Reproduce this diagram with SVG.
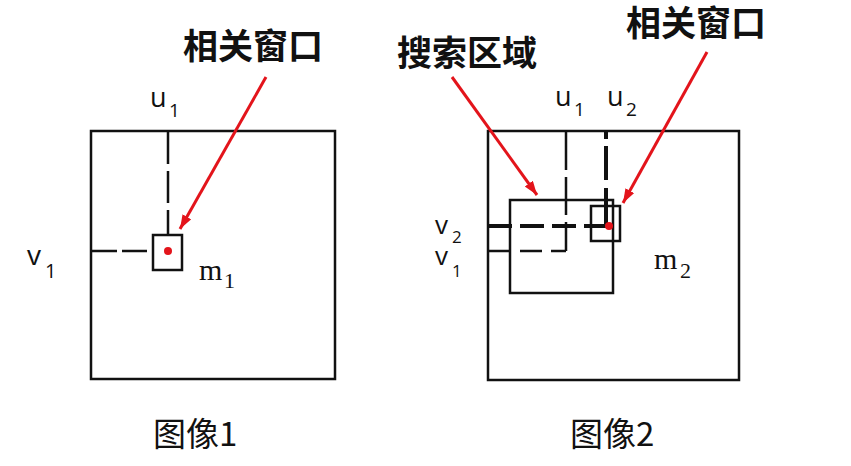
<svg xmlns="http://www.w3.org/2000/svg" width="851" height="466" viewBox="0 0 851 466">
<defs>
<style>
.box{fill:none;stroke:#111;stroke-width:2.5}
.dash{fill:none;stroke:#111;stroke-width:2.5}
.dashb{fill:none;stroke:#111;stroke-width:4}
.arrow{stroke:#e3141b;stroke-width:3;fill:none;marker-end:url(#ah)}
.dot{fill:#e3141b}
.cjkb{font-family:"Noto Sans CJK SC","Noto Sans",sans-serif;font-weight:bold;font-size:35px;fill:#111}
.cjk{font-family:"Noto Sans CJK SC","Noto Sans",sans-serif;font-size:33px;fill:#111}
.var{font-family:"Open Sans","Noto Sans",sans-serif;fill:#111}
.ser{font-family:"Liberation Serif","Times New Roman",serif;fill:#111}
</style>
<marker id="ah" markerUnits="userSpaceOnUse" markerWidth="16" markerHeight="12" refX="14" refY="5" orient="auto">
<path d="M0,0 L14,5 L0,10 z" fill="#e3141b"/>
</marker>
</defs>
<rect width="851" height="466" fill="#fff"/>

<g id="image1">
<rect class="box" x="91" y="131" width="244" height="248"/>
<text class="cjk" x="153" y="446">图像1</text>
</g>
<g id="window1">
<rect class="box" x="153" y="235" width="29" height="35"/>
<circle class="dot" cx="168" cy="251" r="4"/>
</g>
<g id="labels1">
<text class="var" x="150" y="107" font-size="27">u</text><text class="var" x="169" y="117" font-size="19">1</text>
<text class="var" x="27" y="265" font-size="28">v</text><text class="var" x="45" y="278" font-size="20">1</text>
<text class="ser" x="199" y="280" font-size="30">m</text><text class="ser" x="224" y="288" font-size="22">1</text>
<text class="cjkb" x="253" y="59" text-anchor="middle">相关窗口</text>
</g>

<g id="image2">
<rect class="box" x="488" y="131" width="251" height="249"/>
<text class="cjk" x="570" y="446">图像2</text>
</g>
<g id="search">
<rect class="box" x="510" y="200" width="103" height="93"/>
<text class="cjkb" x="467" y="66" text-anchor="middle">搜索区域</text>
</g>
<g id="window2">
<rect class="box" x="591" y="206" width="29" height="35"/>
<text class="cjkb" x="696" y="36" text-anchor="middle">相关窗口</text>
</g>
<g id="labels2">
<text class="var" x="555" y="106" font-size="27">u</text><text class="var" x="574" y="116" font-size="19">1</text>
<text class="var" x="607" y="106" font-size="27">u</text><text class="var" x="626" y="116" font-size="19">2</text>
<text class="var" x="435" y="234" font-size="26">v</text><text class="var" x="452" y="243" font-size="17">2</text>
<text class="var" x="435" y="265" font-size="26">v</text><text class="var" x="452" y="277" font-size="17">1</text>
<text class="ser" x="654" y="269" font-size="30">m</text><text class="ser" x="680" y="278" font-size="22">2</text>
</g>

<g id="connectors">
<line class="dash" x1="168" y1="132" x2="168" y2="235" stroke-dasharray="32 7"/>
<line class="dash" x1="92" y1="251" x2="153" y2="251" stroke-dasharray="25 5"/>
<line class="dash" x1="566" y1="132" x2="566" y2="251" stroke-dasharray="38 7"/>
<line class="dash" x1="489" y1="251" x2="566" y2="251" stroke-dasharray="22 9"/>
<line class="dashb" x1="606" y1="131" x2="606" y2="226" stroke-dasharray="8 7 34 8 60"/>
<line class="dashb" x1="488" y1="226" x2="606" y2="226" stroke-dasharray="24 8"/>
<line class="arrow" x1="266" y1="77" x2="180" y2="229"/>
<line class="arrow" x1="452" y1="77" x2="537" y2="195"/>
<line class="arrow" x1="707" y1="52" x2="623" y2="203"/>
</g>
<circle class="dot" cx="609" cy="226" r="4"/>
</svg>
